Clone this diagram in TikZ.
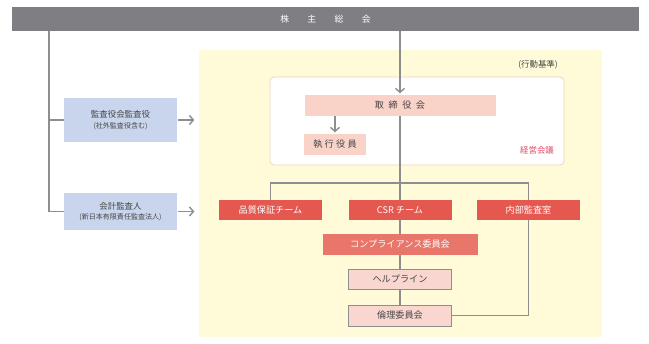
\documentclass[tikz,border=0pt]{standalone}
\usepackage{fontspec}
\setmainfont{Noto Sans CJK JP}
\usetikzlibrary{arrows.meta}
\definecolor{barGray}{RGB}{127,127,131}
\definecolor{lineGray}{RGB}{142,142,142}
\definecolor{textGray}{RGB}{70,70,70}
\definecolor{bgYellow}{RGB}{255,251,217}
\definecolor{frameBeige}{RGB}{236,210,192}
\definecolor{blueFill}{RGB}{201,213,236}
\definecolor{pinkFill}{RGB}{249,210,200}
\definecolor{lightPink}{RGB}{249,214,207}
\definecolor{redFill}{RGB}{228,88,80}
\definecolor{salmonFill}{RGB}{233,118,106}
\definecolor{noteRed}{RGB}{233,70,100}
\newcommand{\subtextfont}{\fontsize{10}{12}\selectfont}
\tikzset{
  box/.style={inner sep=0pt, align=center, text=textGray, font=\fontsize{13}{15}\selectfont},
  redbox/.style={box, fill=redFill, text=white, minimum width=51.5mm, minimum height=10mm},
  pinkbox/.style={box, fill=lightPink, draw=lineGray, line width=0.6pt, minimum width=51.5mm, minimum height=10mm},
  bluebox/.style={box, fill=blueFill, minimum width=56.5mm, font=\fontsize{12}{15}\selectfont},
  link/.style={draw=lineGray, line width=2pt},
  arr/.style={link, -{Straight Barb[length=2mm,width=4.5mm]}, shorten >=0.8mm}
}
\begin{document}
\begin{tikzpicture}[x=0.5mm,y=-0.5mm]
\useasboundingbox (0,0) rectangle (649,343);
\fill[bgYellow] (199,50) rectangle (602,337);
\draw[frameBeige, fill=white, line width=1pt, rounded corners=2mm] (270,77) rectangle (564,165);
\node[fill=barGray, text=white, inner sep=0pt, minimum width=313.5mm, minimum height=12mm, font=\fontsize{12.5}{15}\selectfont] (soukai) at (325.5,19) {株\hspace{2.1em}主\hspace{2.1em}総\hspace{2.1em}会};
\node[box, fill=pinkFill, minimum width=95.5mm, minimum height=10.5mm] (torishimari) at (400,105.5) {取\hspace{0.5em}締\hspace{0.5em}役\hspace{0.5em}会};
\node[box, fill=pinkFill, minimum width=31mm, minimum height=10.5mm] (shikkou) at (335,144.5) {執\hspace{0.25em}行\hspace{0.25em}役\hspace{0.25em}員};
\node[box, font=\fontsize{12}{14}\selectfont] (koudou) at (538,65) {(行動基準)};
\node[box, text=noteRed, font=\fontsize{12}{14}\selectfont] (keiei) at (537,150) {経営会議};
\node[bluebox, minimum height=22mm] (kansa) at (120.5,120) {監査役会監査役\\{\subtextfont(社外監査役含む)}};
\node[bluebox, minimum height=18.5mm] (kaikei) at (120.5,211.5) {会計監査人\\{\subtextfont(新日本有限責任監査法人)}};
\node[redbox] (hinshitsu) at (270.5,210) {品質保証チーム};
\node[redbox] (csr) at (400,210) {CSR チーム};
\node[redbox] (naibu) at (528.5,210) {内部監査室};
\node[box, fill=salmonFill, text=white, minimum width=77.5mm, minimum height=10.5mm] (compliance) at (400,244.5) {コンプライアンス委員会};
\node[pinkbox] (helpline) at (400,279) {ヘルプライン};
\node[pinkbox, minimum height=10.5mm] (rinri) at (400,315.5) {倫理委員会};
\coordinate (junction) at (400,183);
\coordinate (trunk) at (49,0);
\coordinate (target) at (196,0);
\draw[arr] (soukai.south -| torishimari.north) -- (torishimari.north);
\draw[arr] (torishimari.south -| shikkou.north) -- (shikkou.north);
\draw[link] (torishimari.south) -- (csr.north);
\draw[link] (hinshitsu.north) -- (hinshitsu.north |- junction) -- (naibu.north |- junction) -- (naibu.north);
\draw[link] (csr.south) -- (compliance.north);
\draw[link] (compliance.south) -- (helpline.north);
\draw[link] (helpline.south) -- (rinri.north);
\draw[link] (naibu.south) |- (rinri.east);
\draw[link] (soukai.south -| trunk) |- (kaikei.west);
\draw[link] (kansa.west) -- (kansa.west -| trunk);
\draw[arr, shorten <=1pt] (kansa.east) -- (kansa.east -| target);
\draw[arr, shorten <=1pt] (kaikei.east) -- (kaikei.east -| target);
\end{tikzpicture}
\end{document}
